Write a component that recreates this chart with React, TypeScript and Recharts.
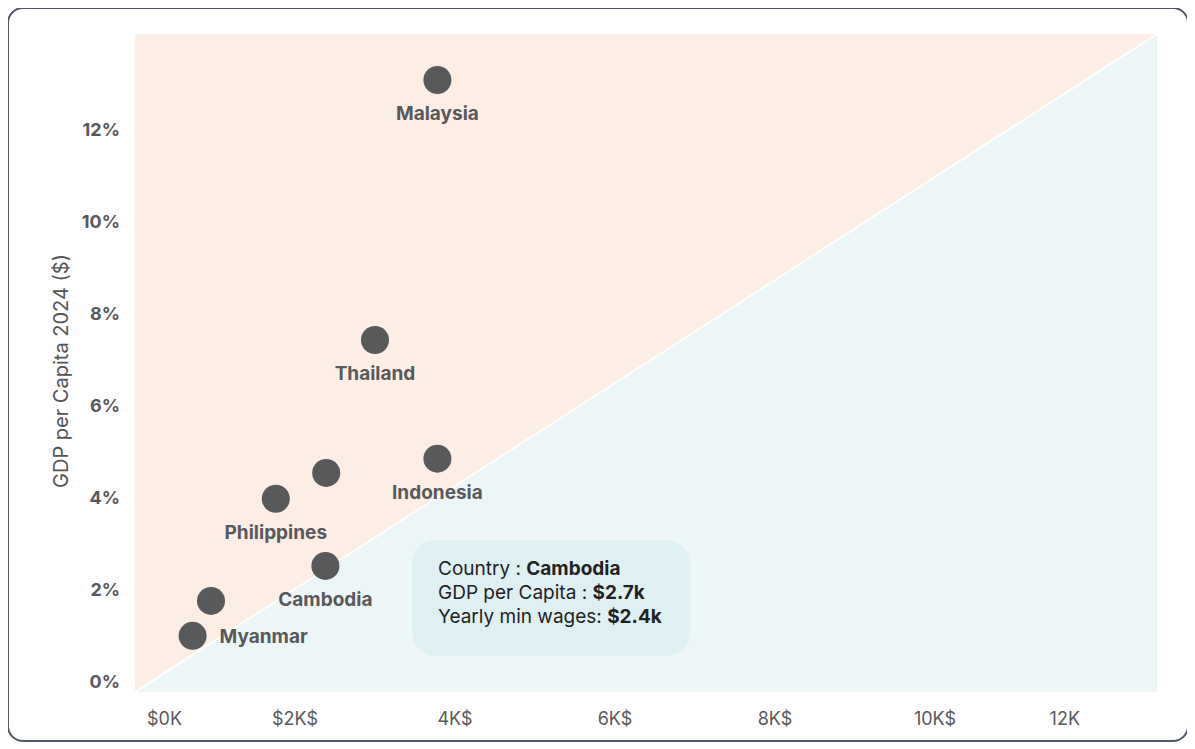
import React from 'react';
import { ScatterChart, Scatter, XAxis, YAxis, ReferenceArea, ReferenceLine } from 'recharts';

const countries = ['Malaysia', 'Thailand', 'Indonesia', 'Vietnam', 'Philippines', 'Cambodia', 'Laos', 'Myanmar'];
const minWagesK = [3.78, 3.0, 3.78, 2.39, 1.76, 2.38, 0.95, 0.72];
const gdpPerCapitaK = [13.3, 7.65, 5.07, 4.76, 4.2, 2.74, 1.98, 1.22];
const shownLabels = ['Malaysia', 'Thailand', 'Indonesia', 'Philippines', 'Cambodia', 'Myanmar'];
const labelsOnRight = ['Myanmar'];

const xTickValues = [0, 2, 4, 6, 8, 10, 12];
const xTickLabels = ['$0K', '$2K$', '4K$', '6K$', '8K$', '10K$', '12K'];
const yTickValues = [0, 2, 4, 6, 8, 10, 12];
const yTickLabels = ['0%', '2%', '4%', '6%', '8%', '10%', '12%'];

const X_MAX = 12.775;
const Y_MAX = 14.3;
const tooltipCountry = 'Cambodia';

const data = countries.map((name, i) => ({ name, x: minWagesK[i], y: gdpPerCapitaK[i] }));

const FONT = 'Inter, "Noto Sans", sans-serif';
const DOT = '#58595B';

const DotShape = (props: any) => {
  const { cx, cy, payload } = props;
  const show = shownLabels.includes(payload.name);
  const right = labelsOnRight.includes(payload.name);
  return (
    <g>
      <circle cx={cx} cy={cy} r={14} fill={DOT} />
      {show && (
        <text
          x={right ? cx + 27 : cx}
          y={right ? cy + 7 : cy + 40}
          textAnchor={right ? 'start' : 'middle'}
          fontFamily={FONT}
          fontWeight={700}
          fontSize={19}
          fill={DOT}
        >
          {payload.name}
        </text>
      )}
    </g>
  );
};

const Triangle = (props: any) => {
  const { x, y, width, height } = props;
  const pts = `${x},${y + height} ${x + width},${y} ${x + width},${y + height}`;
  return <polygon points={pts} fill="#EDF6F7" />;
};

const XTick = (props: any) => {
  const { x, y, payload } = props;
  const idx = xTickValues.indexOf(payload.value);
  const first = idx === 0;
  const last = idx === xTickValues.length - 1;
  return (
    <text
      x={x}
      y={y}
      dx={first ? 12 : last ? -15 : 0}
      dy={33}
      textAnchor={first ? 'start' : last ? 'end' : 'middle'}
      fontFamily={FONT}
      fontSize={18}
      fill={DOT}
    >
      {xTickLabels[idx]}
    </text>
  );
};

const YTick = (props: any) => {
  const { x, y, payload } = props;
  const idx = yTickValues.indexOf(payload.value);
  return (
    <text x={x - 15} y={y} dy={-4} textAnchor="end" fontFamily={FONT} fontWeight={700} fontSize={18} fill={DOT}>
      {yTickLabels[idx]}
    </text>
  );
};

const YLabel = (props: any) => {
  const { viewBox } = props;
  const cx = viewBox.x + 54;
  const cy = viewBox.y + viewBox.height / 2 + 8;
  return (
    <text
      x={cx}
      y={cy}
      transform={`rotate(-90 ${cx} ${cy})`}
      textAnchor="middle"
      dominantBaseline="central"
      fontFamily={FONT}
      fontSize={20}
      fill="#555"
    >
      GDP per Capita 2024 ($)
    </text>
  );
};

export default function App() {
  const t = data.find((d) => d.name === tooltipCountry)!;
  return (
    <div style={{ position: 'relative', width: 1182, height: 735, marginLeft: -1, marginTop: -1, background: '#fff' }}>
      <ScatterChart width={1182} height={735} margin={{ top: 27, right: 32, bottom: 0, left: 0 }}>
        <XAxis
          type="number"
          dataKey="x"
          domain={[0, X_MAX]}
          allowDataOverflow
          ticks={xTickValues}
          interval={0}
          height={50}
          axisLine={false}
          tickLine={false}
          tickSize={0}
          tickMargin={0}
          tick={<XTick />}
        />
        <YAxis
          type="number"
          dataKey="y"
          domain={[0, Y_MAX]}
          allowDataOverflow
          ticks={yTickValues}
          interval={0}
          width={128}
          axisLine={false}
          tickLine={false}
          tickSize={0}
          tickMargin={0}
          tick={<YTick />}
          label={<YLabel />}
        />
        <ReferenceArea x1={0} x2={X_MAX} y1={0} y2={Y_MAX} fill="#FCEEE5" fillOpacity={1} stroke="none" />
        <ReferenceArea x1={0} x2={X_MAX} y1={0} y2={Y_MAX} shape={<Triangle />} />
        <ReferenceLine
          segment={[{ x: 0, y: 0 }, { x: X_MAX, y: Y_MAX }]}
          stroke="#ffffff"
          strokeWidth={1.5}
        />
        <Scatter data={data} dataKey="y" shape={<DotShape />} isAnimationActive={false} />
      </ScatterChart>
      <div
        style={{
          position: 'absolute',
          left: 405,
          top: 533,
          width: 278,
          height: 116,
          borderRadius: 24,
          background: '#DFF0F3',
          boxSizing: 'border-box',
          padding: '17px 26px',
          fontFamily: FONT,
          fontSize: 19,
          lineHeight: '24px',
          color: '#222',
          whiteSpace: 'nowrap',
        }}
      >
        <div>
          Country : <b>{t.name}</b>
        </div>
        <div>
          GDP per Capita : <b>${t.y.toFixed(1)}k</b>
        </div>
        <div>
          Yearly min wages: <b>${t.x.toFixed(1)}k</b>
        </div>
      </div>
      <div
        style={{
          position: 'absolute',
          left: 0,
          top: 0,
          width: 1182,
          height: 735,
          boxSizing: 'border-box',
          border: '2px solid #4F5666',
          borderRadius: 16,
          pointerEvents: 'none',
        }}
      />
    </div>
  );
}
